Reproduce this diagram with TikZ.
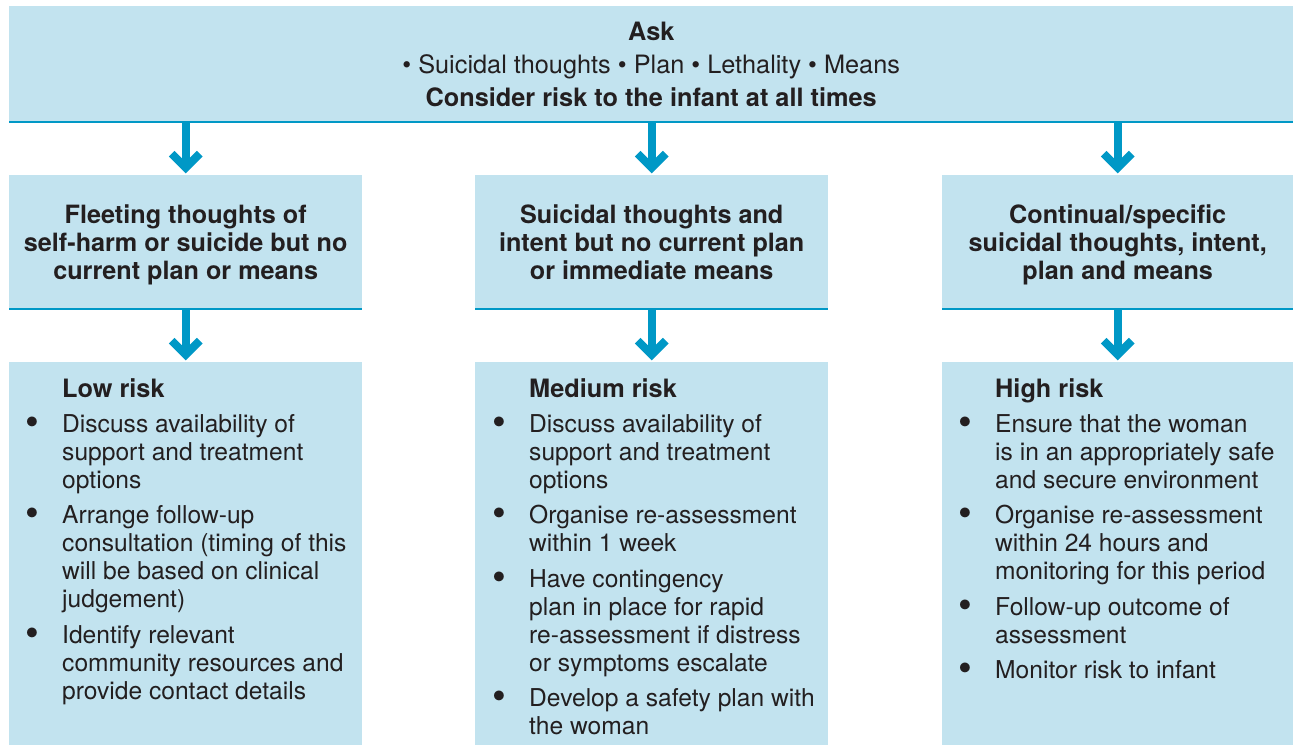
\documentclass[tikz,border=0pt]{standalone}
\usepackage{fontspec}
\setmainfont{TeX Gyre Heros}
\usetikzlibrary{arrows.meta,calc}
\definecolor{boxfill}{HTML}{C2E3EF}
\definecolor{lineblue}{HTML}{0098C6}
\definecolor{txt}{HTML}{231F20}
\newcommand\itembul{\leavevmode\llap{\raisebox{-3pt}{\scalebox{1.6}{•}}\hspace{23pt}}}
\newcommand\hd[1]{{\fontsize{25.3}{28}\selectfont\bfseries #1}}
\tikzset{
  box/.style={fill=boxfill, draw=none, inner sep=0pt, anchor=north west},
  rulebar/.style={draw=lineblue, line width=2pt},
  arr/.style={draw=lineblue, line width=8pt, -{Straight Barb[length=14pt,width=28pt]}, shorten >=1.7pt},
  midtext/.style={align=center, font=\fontsize{25.2}{28}\selectfont\bfseries, text=txt, text depth=0pt},
  listtext/.style={align=left, anchor=north west, inner sep=0pt, font=\fontsize{24.6}{28}\selectfont, text=txt},
}
\begin{document}
\begin{tikzpicture}[x=1pt,y=-1pt]
\useasboundingbox (0,0) rectangle (1293,745);
% top box
\node[box, minimum width=1284pt, minimum height=116pt, align=center,
      font=\fontsize{25.3}{33}\selectfont, text=txt, text depth=0pt] (ask) at (9,6)
  {\textbf{Ask}\\ • Suicidal thoughts • Plan • Lethality • Means\\ \textbf{Consider risk to the infant at all times}};
\draw[rulebar] (ask.south west) -- (ask.south east);
% middle boxes
\node[box, minimum width=353pt, minimum height=134pt, midtext] (mid1) at (9,175)
  {Fleeting thoughts of\\ self-harm or suicide but no\\ current plan or means};
\node[box, minimum width=353pt, minimum height=134pt, midtext] (mid2) at (475,175)
  {Suicidal thoughts and\\ intent but no current plan\\ or immediate means};
\node[box, minimum width=351pt, minimum height=134pt, midtext] (mid3) at (942,175)
  {Continual/specific\\ suicidal thoughts, intent,\\ plan and means};
\foreach \m in {mid1,mid2,mid3}{\draw[rulebar] (\m.south west) -- (\m.south east);}
% bottom boxes
\node[box, minimum width=353pt, minimum height=383pt] (low) at (9,362) {};
\node[box, minimum width=353pt, minimum height=383pt] (med) at (475,362) {};
\node[box, minimum width=351pt, minimum height=383pt] (high) at (942,362) {};
% arrows
\draw[arr] (ask.south -| mid1.north) -- (mid1.north);
\draw[arr] (ask.south -| mid2.north) -- (mid2.north);
\draw[arr] (ask.south -| mid3.north) -- (mid3.north);
\draw[arr] (mid1.south) -- (low.north);
\draw[arr] (mid2.south) -- (med.north);
\draw[arr] (mid3.south) -- (high.north);
% lists
\node[listtext] (lowtxt) at ($(low.north west)+(53,16.2)$)
  {\hd{Low risk}\\[7pt]
   \itembul Discuss availability of\\ support and treatment\\ options\\[7.5pt]
   \itembul Arrange follow-up\\ consultation (timing of this\\ will be based on clinical\\ judgement)\\[7.5pt]
   \itembul Identify relevant\\ community resources and\\ provide contact details};
\node[listtext] (medtxt) at ($(med.north west)+(54,16.2)$)
  {\hd{Medium risk}\\[7pt]
   \itembul Discuss availability of\\ support and treatment\\ options\\[7.5pt]
   \itembul Organise re-assessment\\ within 1 week\\[7.5pt]
   \itembul Have contingency\\ plan in place for rapid\\ re-assessment if distress\\ or symptoms escalate\\[7.5pt]
   \itembul Develop a safety plan with\\ the woman};
\node[listtext] (hightxt) at ($(high.north west)+(53,16.2)$)
  {\hd{High risk}\\[7pt]
   \itembul Ensure that the woman\\ is in an appropriately safe\\ and secure environment\\[7.5pt]
   \itembul Organise re-assessment\\ within 24 hours and\\ monitoring for this period\\[7.5pt]
   \itembul Follow-up outcome of\\ assessment\\[7.5pt]
   \itembul Monitor risk to infant};
\end{tikzpicture}
\end{document}
